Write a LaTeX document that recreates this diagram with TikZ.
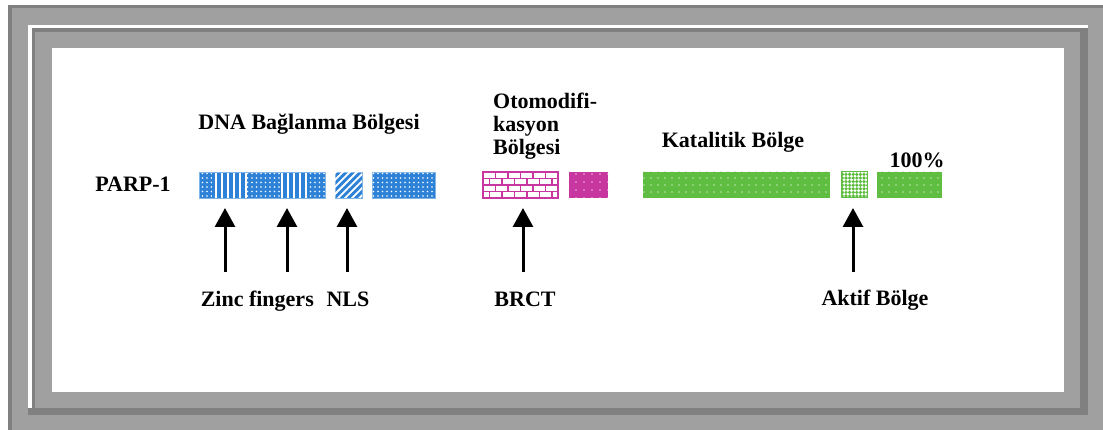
\documentclass[tikz,border=0pt]{standalone}
\usepackage{fontspec}
\setmainfont{Liberation Serif}
\usetikzlibrary{
	arrows.meta,
	positioning,
	patterns.meta
}
\definecolor{FrameLight}{RGB}{160,160,160}
\definecolor{FrameDark}{RGB}{128,128,128}
\definecolor{DomBlue}{RGB}{45,130,215}
\definecolor{DomPink}{RGB}{200,55,160}
\definecolor{DomGreen}{RGB}{95,190,65}

\tikzset{
	lbl/.style={font=\bfseries\fontsize{22}{23}\selectfont, inner sep=0pt, anchor=base},
	dom/.style={minimum height=26pt, inner sep=0pt, outer sep=0pt, anchor=west},
	wdots/.style={postaction={pattern={Dots[radius=0.9pt, distance=4.5pt]}, pattern color=white}},
	wlines/.style={postaction={pattern={Lines[angle=90, distance=6pt, line width=2pt]}, pattern color=white}},
	wdiag/.style={postaction={pattern={Lines[angle=45, distance=5pt, line width=1.8pt]}, pattern color=white}},
	pdots/.style={postaction={pattern={Dots[radius=0.8pt, distance=8pt]}, pattern color=DomPink!40!white}},
	gdots/.style={postaction={pattern={Dots[radius=0.8pt, distance=7pt]}, pattern color=DomGreen!45!white}},
	gdense/.style={postaction={pattern={Dots[radius=1.8pt, distance=3.6pt]}, pattern color=DomGreen}},
	pfeil/.style={line width=3pt, -{Triangle[length=19pt, width=20pt]}, shorten >=10pt}
}

\begin{document}
\begin{tikzpicture}[x=1pt, y=-1pt]
		% Rahmen
		\useasboundingbox (0,0) rectangle (1103,430);
		\fill[FrameLight] (8,5) rectangle (1103,430);
		\fill[FrameDark] (8,5) rectangle (1103,8);
		\fill[FrameDark] (8,5) rectangle (12,430);
		\fill[white] (28,25) rectangle (1088,28);
		\fill[white] (28,25) rectangle (32,408);
		\fill[FrameDark] (32,28) rectangle (1088,415);
		\fill[FrameDark] (28,408) rectangle (32,415);
		\fill[FrameLight] (35,32) rectangle (1080,408);
		\fill[white] (52,48) rectangle (1064,392);

		\node[lbl] (parp) at (133,192) {PARP-1};

		% DNA Bağlanma Bölgesi
		\node[dom, minimum width=13pt, fill=DomBlue, wdots] (z1) at (199,185) {};
		\node[dom, minimum width=35pt, fill=DomBlue, wlines, right=0pt of z1] (z2) {};
		\node[dom, minimum width=33pt, fill=DomBlue, wdots, right=0pt of z2] (z3) {};
		\node[dom, minimum width=28pt, fill=DomBlue, wlines, right=0pt of z3] (z4) {};
		\node[dom, minimum width=17pt, fill=DomBlue, wdots, right=0pt of z4] (z5) {};
		\draw[DomBlue!60, line width=0.8pt] (z1.north west) rectangle (z5.south east);
		\node[dom, minimum width=27pt, fill=DomBlue, draw=DomBlue!60, line width=0.8pt, wdiag] (nls) at (335,185) {};
		\node[dom, minimum width=63pt, fill=DomBlue, draw=DomBlue!60, line width=0.8pt, wdots] (dbd) at (372,185) {};

		% Otomodifikasyon
		\node[dom, minimum width=75pt, fill=white, draw=DomPink, line width=1.5pt] (brct) at (483,185) {};
		\foreach \y in {178.5,185,191.5}
			\draw[DomPink, line width=1.5pt] (483,\y) -- (558,\y);
		\foreach \y in {172,185}
			\foreach \x in {495.5,508,520.5,533,545.5}
				\draw[DomPink, line width=1.5pt] (\x,\y) -- (\x,\y+6.5);
		\foreach \y in {178.5,191.5}
			\foreach \x in {489.25,501.75,514.25,526.75,539.25,551.75}
				\draw[DomPink, line width=1.5pt] (\x,\y) -- (\x,\y+6.5);
		\node[dom, minimum width=39pt, fill=DomPink, pdots] (auto) at (569,185) {};

		% Katalitik
		\node[dom, minimum width=187pt, fill=DomGreen, gdots] (kat1) at (643,185) {};
		\node[dom, minimum width=26pt, fill=white, draw=DomGreen, line width=1pt, gdense] (akt) at (841,185) {};
		\node[dom, minimum width=65pt, fill=DomGreen, gdots] (kat2) at (877,185) {};

		% Beschriftungen
		\node[lbl] (dnal) at (309,130) {DNA Bağlanma Bölgesi};
		\node[lbl, anchor=north west, align=left] (otol) at (493,93) {Otomodifi-\\kasyon\\Bölgesi};
		\node[lbl] (katl) at (733,148) {Katalitik Bölge};
		\node[lbl] (pct) at (917,168) {100\%};
		\node[lbl, anchor=base east] (zinc) at (314,307) {Zinc fingers};
		\node[lbl] (nlsl) at (348,307) {NLS};
		\node[lbl] (brctl) at (525,307) {BRCT};
		\node[lbl] (aktl) at (875,306) {Aktif Bölge};

		% Pfeile
		\coordinate (a1) at (225,272);
		\coordinate (a2) at (287,272);
		\coordinate (a3) at (347,272);
		\coordinate (a4) at (523,272);
		\coordinate (a5) at (853,272);
		\draw[pfeil] (a1) -- (a1 |- z2.south);
		\draw[pfeil] (a2) -- (a2 |- z4.south);
		\draw[pfeil] (a3) -- (a3 |- nls.south);
		\draw[pfeil] (a4) -- (a4 |- brct.south);
		\draw[pfeil] (a5) -- (a5 |- akt.south);
	\end{tikzpicture}
\end{document}
